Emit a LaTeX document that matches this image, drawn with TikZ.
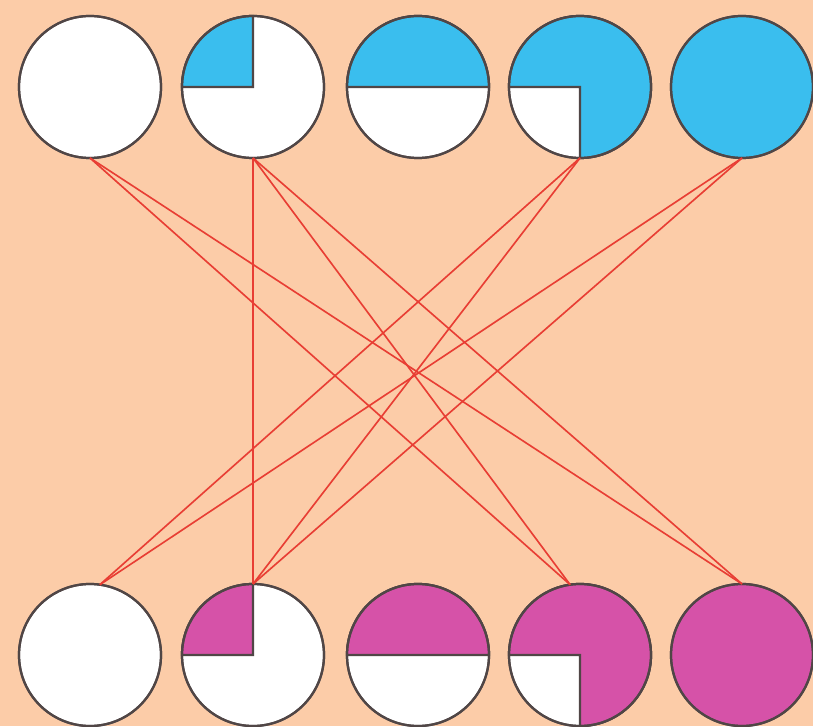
\documentclass[tikz,border=0pt]{standalone}
\definecolor{bgpeach}{RGB}{252,204,168}
\definecolor{skyblue}{RGB}{58,190,238}
\definecolor{magpink}{RGB}{214,82,168}
\definecolor{linered}{RGB}{232,62,52}
\definecolor{rimgray}{RGB}{80,70,70}
\tikzset{
  disc/.style={circle, draw=rimgray, line width=1.9pt, fill=white, minimum size=4.26cm, inner sep=0pt, outer sep=0pt},
  part/.style={draw=rimgray, line width=1.9pt, line join=miter},
  link/.style={draw=linered, line width=1.4pt}
}
\begin{document}
\begin{tikzpicture}[x=0.03cm,y=0.03cm]
\useasboundingbox (0,0) rectangle (813,726);
\fill[bgpeach] (0,0) rectangle (813,726);
\begin{scope}
\clip (0,0) rectangle (813,726);
% top row
\node[disc] (t1) at (90,639) {};
\node[disc] (t2) at (253,639) {};
\node[disc] (t3) at (418,639) {};
\node[disc] (t4) at (580,639) {};
\node[disc, fill=skyblue] (t5) at (742,639) {};
\path[part, fill=skyblue] (t2.center) -- (t2.west) arc (180:90:2.13cm) -- cycle;
\path[part, fill=skyblue] (t3.east) arc (0:180:2.13cm) -- cycle;
\path[part, fill=skyblue] (t4.center) -- (t4.south) arc (-90:180:2.13cm) -- cycle;
\foreach \n in {t1,t2,t3,t4,t5} \draw[rimgray, line width=1.9pt] (\n) circle (2.13cm);
% bottom row
\node[disc] (b1) at (90,71) {};
\node[disc] (b2) at (253,71) {};
\node[disc] (b3) at (418,71) {};
\node[disc] (b4) at (580,71) {};
\node[disc, fill=magpink] (b5) at (742,71) {};
\path[part, fill=magpink] (b2.center) -- (b2.west) arc (180:90:2.13cm) -- cycle;
\path[part, fill=magpink] (b3.east) arc (0:180:2.13cm) -- cycle;
\path[part, fill=magpink] (b4.center) -- (b4.south) arc (-90:180:2.13cm) -- cycle;
\foreach \n in {b1,b2,b3,b4,b5} \draw[rimgray, line width=1.9pt] (\n) circle (2.13cm);
\end{scope}
% connectors
\draw[link] (t1.south) -- (b4.98);
\draw[link] (t1.south) -- (b5.north);
\draw[link] (t2.south) -- (b2.north);
\draw[link] (t2.south) -- (b4.98);
\draw[link] (t2.south) -- (b5.north);
\draw[link] (t4.south) -- (b1.82);
\draw[link] (t4.south) -- (b2.north);
\draw[link] (t5.south) -- (b1.82);
\draw[link] (t5.south) -- (b2.north);
\end{tikzpicture}
\end{document}
